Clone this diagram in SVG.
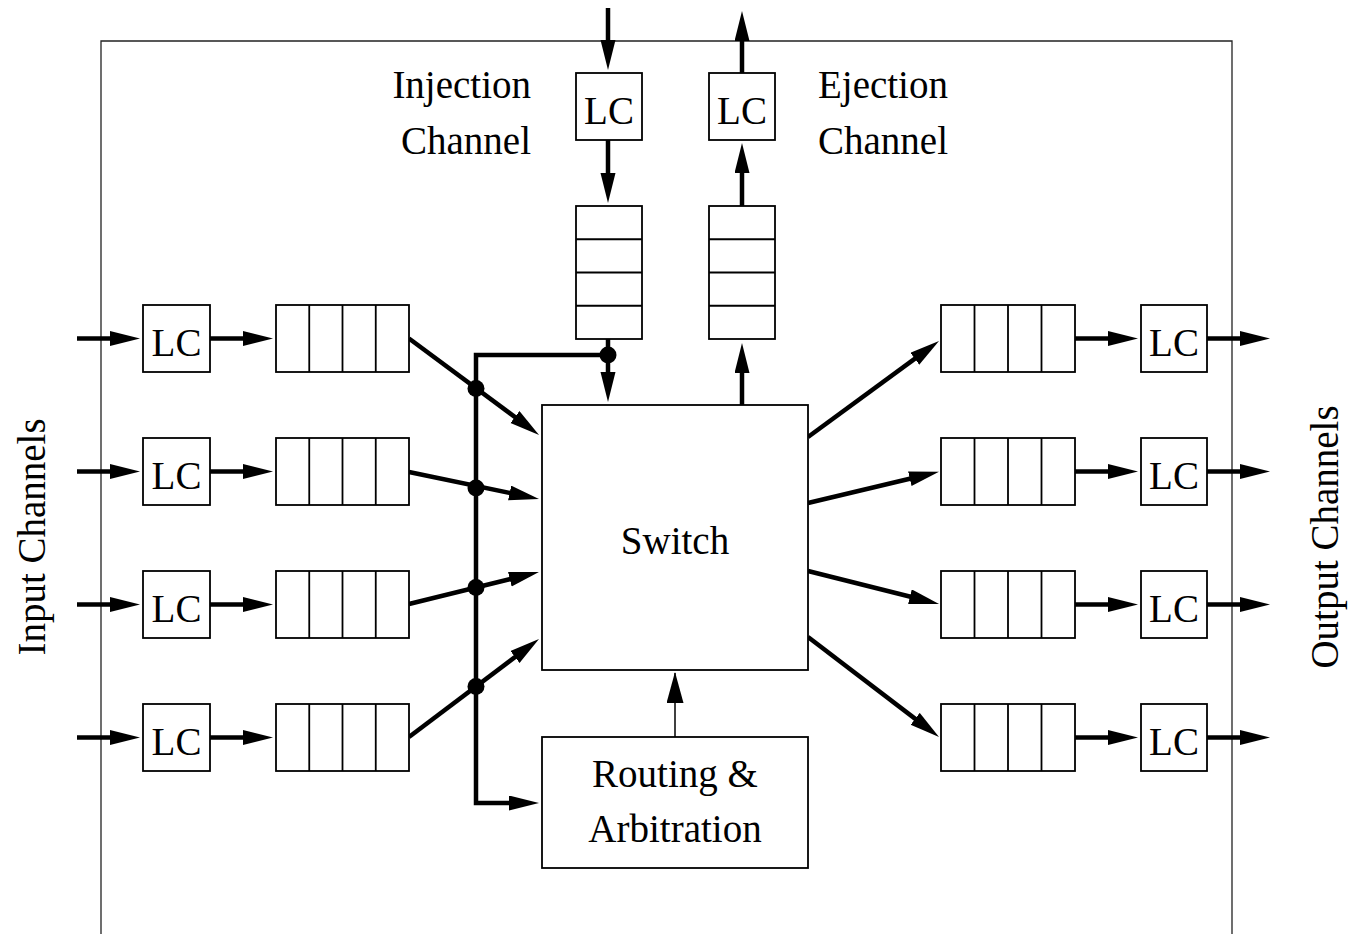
<svg xmlns="http://www.w3.org/2000/svg" width="1351" height="934" viewBox="0 0 1351 934">
<style>
.box{fill:#fff;stroke:#000;stroke-width:1.8}
.cell{fill:none;stroke:#000;stroke-width:1.8}
.t{font-family:"Liberation Serif","Times New Roman",serif;font-size:39px;fill:#000}
.thick{fill:none;stroke:#000;stroke-width:4.5;stroke-linecap:butt;stroke-linejoin:miter}
.thin{fill:none;stroke:#000;stroke-width:1.5}
.frame{fill:none;stroke:#222;stroke-width:1.3}
</style>
<defs>
<marker id="ah" markerUnits="userSpaceOnUse" markerWidth="32" markerHeight="16" refX="15" refY="7.5" orient="auto">
<path d="M0,0 L30,7.5 L0,15 z" fill="#000"/>
</marker>
<marker id="aht" markerUnits="userSpaceOnUse" markerWidth="32" markerHeight="18" refX="30" refY="8.5" orient="auto">
<path d="M0,0 L31,8.5 L0,17 z" fill="#000"/>
</marker>
</defs>
<rect width="1351" height="934" fill="#fff"/>
<path class="frame" d="M101,934 V41 H1232 V934"/>

<text class="t" text-anchor="middle" transform="translate(45,537) rotate(-90)">Input Channels</text>
<text class="t" text-anchor="middle" transform="translate(1338,537) rotate(-90)">Output Channels</text>
<text class="t" x="531" y="98" text-anchor="end">Injection</text>
<text class="t" x="531" y="154" text-anchor="end">Channel</text>
<text class="t" x="818" y="98">Ejection</text>
<text class="t" x="818" y="154">Channel</text>

<g id="connectors">
<!-- input side horizontal -->
<path class="thick" marker-end="url(#ah)" d="M77,338.5 H125"/>
<path class="thick" marker-end="url(#ah)" d="M210,338.5 H258"/>
<path class="thick" marker-end="url(#ah)" d="M77,471.5 H125"/>
<path class="thick" marker-end="url(#ah)" d="M210,471.5 H258"/>
<path class="thick" marker-end="url(#ah)" d="M77,604.5 H125"/>
<path class="thick" marker-end="url(#ah)" d="M210,604.5 H258"/>
<path class="thick" marker-end="url(#ah)" d="M77,737.5 H125"/>
<path class="thick" marker-end="url(#ah)" d="M210,737.5 H258"/>
<!-- output side horizontal -->
<path class="thick" marker-end="url(#ah)" d="M1075,338.5 H1123"/>
<path class="thick" marker-end="url(#ah)" d="M1207,338.5 H1255"/>
<path class="thick" marker-end="url(#ah)" d="M1075,471.5 H1123"/>
<path class="thick" marker-end="url(#ah)" d="M1207,471.5 H1255"/>
<path class="thick" marker-end="url(#ah)" d="M1075,604.5 H1123"/>
<path class="thick" marker-end="url(#ah)" d="M1207,604.5 H1255"/>
<path class="thick" marker-end="url(#ah)" d="M1075,737.5 H1123"/>
<path class="thick" marker-end="url(#ah)" d="M1207,737.5 H1255"/>
<!-- injection / ejection -->
<path class="thick" marker-end="url(#ah)" d="M608,8 V55"/>
<path class="thick" marker-end="url(#ah)" d="M608,140 V188"/>
<path class="thick" marker-end="url(#ah)" d="M608,339 V387"/>
<path class="thick" marker-end="url(#ah)" d="M742,405 V358"/>
<path class="thick" marker-end="url(#ah)" d="M742,206 V158"/>
<path class="thick" marker-end="url(#ah)" d="M742,73 V26"/>
<!-- input queues to switch -->
<path class="thick" marker-end="url(#ah)" d="M409,338.5 L527,426"/>
<path class="thick" marker-end="url(#ah)" d="M409,472 L524.3,496"/>
<path class="thick" marker-end="url(#ah)" d="M409,604 L524.4,575.6"/>
<path class="thick" marker-end="url(#ah)" d="M409,737 L527,648"/>
<!-- switch to output queues -->
<path class="thick" marker-end="url(#ah)" d="M808,437 L926.9,349.9"/>
<path class="thick" marker-end="url(#ah)" d="M808,503 L924.4,475.3"/>
<path class="thick" marker-end="url(#ah)" d="M808,571 L924.5,600.3"/>
<path class="thick" marker-end="url(#ah)" d="M808,637 L927.1,727.9"/>
<!-- header bus to routing -->
<path class="thick" marker-end="url(#ah)" d="M608,355 H476 V803 H524"/>
<!-- routing to switch -->
<path class="thin" marker-end="url(#aht)" d="M675,737 V673"/>
<!-- junction dots -->
<circle cx="608" cy="355" r="8.5" fill="#000"/>
<circle cx="476" cy="388.5" r="8.5" fill="#000"/>
<circle cx="476" cy="488" r="8.5" fill="#000"/>
<circle cx="476" cy="587.5" r="8.5" fill="#000"/>
<circle cx="476" cy="686.5" r="8.5" fill="#000"/>
</g>

<g id="lc-in-1"><rect class="box" x="143" y="305" width="67" height="67"/><text class="t" x="176.5" y="355.5" text-anchor="middle">LC</text></g>
<g id="lc-in-2"><rect class="box" x="143" y="438" width="67" height="67"/><text class="t" x="176.5" y="488.5" text-anchor="middle">LC</text></g>
<g id="lc-in-3"><rect class="box" x="143" y="571" width="67" height="67"/><text class="t" x="176.5" y="621.5" text-anchor="middle">LC</text></g>
<g id="lc-in-4"><rect class="box" x="143" y="704" width="67" height="67"/><text class="t" x="176.5" y="754.5" text-anchor="middle">LC</text></g>

<g id="q-in-1"><rect class="box" x="276" y="305" width="133" height="67"/><path class="cell" d="M309.25,305 V372 M342.5,305 V372 M375.75,305 V372"/></g>
<g id="q-in-2"><rect class="box" x="276" y="438" width="133" height="67"/><path class="cell" d="M309.25,438 V505 M342.5,438 V505 M375.75,438 V505"/></g>
<g id="q-in-3"><rect class="box" x="276" y="571" width="133" height="67"/><path class="cell" d="M309.25,571 V638 M342.5,571 V638 M375.75,571 V638"/></g>
<g id="q-in-4"><rect class="box" x="276" y="704" width="133" height="67"/><path class="cell" d="M309.25,704 V771 M342.5,704 V771 M375.75,704 V771"/></g>

<g id="q-out-1"><rect class="box" x="941" y="305" width="134" height="67"/><path class="cell" d="M974.5,305 V372 M1008,305 V372 M1041.5,305 V372"/></g>
<g id="q-out-2"><rect class="box" x="941" y="438" width="134" height="67"/><path class="cell" d="M974.5,438 V505 M1008,438 V505 M1041.5,438 V505"/></g>
<g id="q-out-3"><rect class="box" x="941" y="571" width="134" height="67"/><path class="cell" d="M974.5,571 V638 M1008,571 V638 M1041.5,571 V638"/></g>
<g id="q-out-4"><rect class="box" x="941" y="704" width="134" height="67"/><path class="cell" d="M974.5,704 V771 M1008,704 V771 M1041.5,704 V771"/></g>

<g id="lc-out-1"><rect class="box" x="1141" y="305" width="66" height="67"/><text class="t" x="1174" y="355.5" text-anchor="middle">LC</text></g>
<g id="lc-out-2"><rect class="box" x="1141" y="438" width="66" height="67"/><text class="t" x="1174" y="488.5" text-anchor="middle">LC</text></g>
<g id="lc-out-3"><rect class="box" x="1141" y="571" width="66" height="67"/><text class="t" x="1174" y="621.5" text-anchor="middle">LC</text></g>
<g id="lc-out-4"><rect class="box" x="1141" y="704" width="66" height="67"/><text class="t" x="1174" y="754.5" text-anchor="middle">LC</text></g>

<g id="lc-inj"><rect class="box" x="576" y="73" width="66" height="67"/><text class="t" x="609" y="123.5" text-anchor="middle">LC</text></g>
<g id="lc-ej"><rect class="box" x="709" y="73" width="66" height="67"/><text class="t" x="742" y="123.5" text-anchor="middle">LC</text></g>

<g id="q-inj"><rect class="box" x="576" y="206" width="66" height="133"/><path class="cell" d="M576,239.25 H642 M576,272.5 H642 M576,305.75 H642"/></g>
<g id="q-ej"><rect class="box" x="709" y="206" width="66" height="133"/><path class="cell" d="M709,239.25 H775 M709,272.5 H775 M709,305.75 H775"/></g>

<g id="switch"><rect class="box" x="542" y="405" width="266" height="265"/><text class="t" x="675" y="554" text-anchor="middle">Switch</text></g>
<g id="routing"><rect class="box" x="542" y="737" width="266" height="131"/><text class="t" x="675" y="787" text-anchor="middle">Routing &amp;</text><text class="t" x="675" y="842" text-anchor="middle">Arbitration</text></g>
</svg>
